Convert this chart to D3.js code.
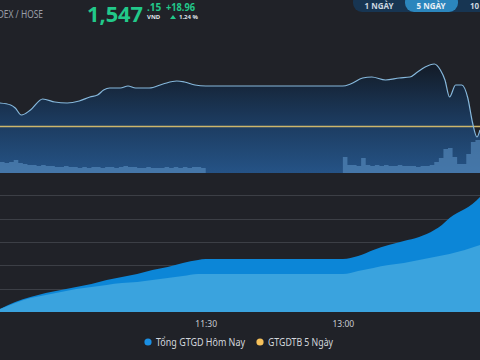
<!DOCTYPE html>
<html><head><meta charset="utf-8">
<script src="https://cdn.jsdelivr.net/npm/d3@7"></script>
<style>html,body{margin:0;padding:0;background:#202228;overflow:hidden}svg{display:block}</style>
</head><body>
<svg id="c" width="480" height="360"></svg>
<script>
// ---------- DATA ----------
const indexName = "VNINDEX / HOSE";
const lastPrice = "1,547";
const lastDecimals = ".15";
const change = "+18.96";
const changePct = "1.24 %";
const rangeButtons = ["1 NGÀY", "5 NGÀY", "10 NGÀY"];
const activeButton = "5 NGÀY";
const refPrice = 1528.19;

const priceTimes = ["09:15","09:22","09:25","09:29","09:35","09:43","09:51","09:59","10:07","10:14","10:19","10:23","10:27","10:34","10:39","10:44","10:53","11:02","11:11","11:16","11:23","11:30","13:00","13:05","13:13","13:19","13:28","13:37","13:44","13:49","13:54","14:00","14:04","14:07","14:10","14:14","14:18","14:22","14:25","14:28","14:30"];
const priceValues = [1540.0,1539.0,1537.5,1534.0,1536.5,1542.0,1540.5,1540.0,1541.0,1543.0,1544.0,1546.5,1547.5,1547.5,1548.5,1547.5,1547.5,1549.5,1551.0,1550.5,1549.0,1548.5,1548.5,1549.5,1552.5,1553.0,1551.5,1552.5,1553.0,1555.5,1558.0,1559.5,1556.5,1551.5,1543.0,1549.0,1549.0,1542.5,1530.5,1523.0,1526.5];

const volMorningTimes = ["09:15","09:18","09:21","09:24","09:27","09:30","09:33","09:36","09:39","09:42","09:45","09:48","09:51","09:54","09:57","10:00","10:03","10:06","10:09","10:12","10:15","10:18","10:21","10:24","10:27","10:30","10:33","10:36","10:39","10:42","10:45","10:48","10:51","10:54","10:57","11:00","11:03","11:06","11:09","11:12","11:15","11:18","11:21","11:24","11:27","11:30"];
const volMorning = [11,10,11,13,10,9,8,8,7,8,7,7,6,6,7,6,6,5,6,5,6,6,5,6,6,5,6,7,6,6,5,5,6,5,5,5,6,5,6,5,6,5,6,6,5,5];
const volAfternoonTimes = ["13:00","13:03","13:06","13:09","13:12","13:15","13:18","13:21","13:24","13:27","13:30","13:33","13:36","13:39","13:42","13:45","13:48","13:51","13:54","13:57","14:00","14:03","14:06","14:09","14:12","14:15","14:18","14:21","14:24","14:27","14:30"];
const volAfternoon = [16,8,8,7,15,8,7,8,7,8,7,7,8,7,7,7,6,7,7,8,11,15,24,25,16,9,9,19,31,33,25];

const valueTimes = ["09:15","09:25","09:35","09:45","09:55","10:05","10:15","10:25","10:35","10:45","10:55","11:05","11:15","11:25","11:30","13:00","13:10","13:20","13:30","13:40","13:50","14:00","14:05","14:10","14:15","14:20","14:25","14:30"];
const todayValue = [130,430,640,815,940,1070,1200,1370,1500,1630,1800,1930,2100,2230,2270,2270,2400,2660,2870,3040,3210,3510,3730,4030,4240,4410,4630,4930];
const avg5Value  = [130,390,600,730,860,990,1070,1160,1240,1290,1370,1460,1540,1630,1630,1630,1760,1890,2010,2100,2230,2360,2420,2490,2570,2660,2760,2870];

const axisTicks = ["11:30","13:00"];
const legendLabels = ["Tổng GTGD Hôm Nay","GTGDTB 5 Ngày"];

// ---------- CHART ----------
const parse = d3.timeParse("%H:%M");
const svg = d3.select("#c");
const W = 480;
const font = "'Noto Sans', 'Open Sans', sans-serif";
const green = "#22c98a";

const x = d3.scaleTime().domain([parse("09:15"), parse("14:30")]).range([0, W]);

// header
svg.append("text").attr("x", 43).attr("y", 18).attr("text-anchor", "end")
  .attr("font-family", font).attr("font-size", 11).attr("fill", "#9a9ea6")
  .attr("textLength", 66).attr("lengthAdjust", "spacingAndGlyphs").text(indexName);
svg.append("text").attr("x", 87).attr("y", 22).attr("font-family", font).attr("font-weight", 700)
  .attr("font-size", 22).attr("fill", green).attr("textLength", 56).attr("lengthAdjust","spacingAndGlyphs").text(lastPrice);
svg.append("text").attr("x", 147).attr("y", 10.5).attr("font-family", font).attr("font-weight", 700)
  .attr("font-size", 10).attr("fill", green).text(lastDecimals);
svg.append("text").attr("x", 147).attr("y", 19).attr("font-family", font).attr("font-weight", 700)
  .attr("font-size", 6).attr("fill", "#dfe3e8").text("VND");
svg.append("text").attr("x", 166).attr("y", 10.5).attr("font-family", font).attr("font-weight", 700)
  .attr("font-size", 10).attr("fill", green).attr("textLength", 29).attr("lengthAdjust","spacingAndGlyphs").text(change);
svg.append("path").attr("d", "M170,19L173,15L176,19Z").attr("fill", green);
svg.append("text").attr("x", 179).attr("y", 19).attr("font-family", font).attr("font-weight", 700)
  .attr("font-size", 6).attr("fill", "#dfe3e8").text(changePct);

// range buttons
svg.append("rect").attr("x", 353).attr("y", -7).attr("width", 150).attr("height", 19).attr("rx", 9).attr("fill", "#173552");
const btnX = [379, 431, 470];
svg.append("rect").attr("x", 405).attr("y", -7).attr("width", 53).attr("height", 19).attr("rx", 9).attr("fill", "#2b86bd");
rangeButtons.forEach((b, i) => {
  svg.append("text").attr("x", btnX[i]).attr("y", 8.5)
    .attr("text-anchor", i < 2 ? "middle" : "start")
    .attr("font-family", font).attr("font-weight", 700).attr("font-size", 8)
    .attr("fill", b === activeButton ? "#e8f0f6" : "#cdd7e0").text(b);
});

// top price panel
const topBottom = 173;
const yP = d3.scaleLinear().domain([1520, 1560]).range([143, 63]);
const defs = svg.append("defs");
const g = defs.append("linearGradient").attr("id", "pg").attr("gradientUnits", "userSpaceOnUse")
  .attr("x1", 0).attr("x2", 0).attr("y1", 60).attr("y2", topBottom);
g.append("stop").attr("offset", 0).attr("stop-color", "#121923");
g.append("stop").attr("offset", 0.5).attr("stop-color", "#1b385a");
g.append("stop").attr("offset", 1).attr("stop-color", "#255386");

const pData = priceTimes.map((t, i) => ({t: parse(t), v: priceValues[i]}));
svg.append("path").datum(pData)
  .attr("d", d3.area().x(d => x(d.t)).y0(topBottom).y1(d => yP(d.v)).curve(d3.curveMonotoneX))
  .attr("fill", "url(#pg)");

// volume
const yV = d3.scaleLinear().domain([0, 40]).range([topBottom, topBottom - 40]);
const volArea = d3.area().x(d => x(d.t)).y0(topBottom).y1(d => yV(d.v)).curve(d3.curveStepAfter);
[[volMorningTimes, volMorning], [volAfternoonTimes, volAfternoon]].forEach(([ts, vs]) => {
  svg.append("path").datum(ts.map((t, i) => ({t: parse(t), v: vs[i]})))
    .attr("d", volArea).attr("fill", "#5286b8").attr("opacity", 0.7);
});

// reference line
svg.append("line").attr("x1", 0).attr("x2", W).attr("y1", yP(refPrice)).attr("y2", yP(refPrice))
  .attr("stroke", "#cdb66c").attr("stroke-width", 1.5);

svg.append("path").datum(pData)
  .attr("d", d3.line().x(d => x(d.t)).y(d => yP(d.v)).curve(d3.curveMonotoneX))
  .attr("fill", "none").attr("stroke", "#86b8dc").attr("stroke-width", 1.2);

// bottom value panel
const yB = d3.scaleLinear().domain([0, 6000]).range([312, 172]);
svg.append("g").selectAll("line").data([1000, 2000, 3000, 4000, 5000]).join("line")
  .attr("x1", 0).attr("x2", W).attr("y1", d => Math.round(yB(d)) + 0.5).attr("y2", d => Math.round(yB(d)) + 0.5)
  .attr("stroke", "#3c3f46").attr("stroke-width", 1);

const vData = valueTimes.map((t, i) => ({t: parse(t), a: todayValue[i], b: avg5Value[i]}));
svg.append("path").datum(vData)
  .attr("d", d3.area().x(d => x(d.t)).y0(yB(0)).y1(d => yB(d.a)).curve(d3.curveMonotoneX))
  .attr("fill", "#0c86d7");
svg.append("path").datum(vData)
  .attr("d", d3.area().x(d => x(d.t)).y0(yB(0)).y1(d => yB(d.b)).curve(d3.curveMonotoneX))
  .attr("fill", "#3aa3de");

// x axis
const ax = svg.append("g").attr("transform", `translate(0,${yB(0)})`)
  .call(d3.axisBottom(x).tickValues(axisTicks.map(parse)).tickFormat(d3.timeFormat("%H:%M")).tickSize(0).tickPadding(9));
ax.select(".domain").remove();
ax.selectAll("text").attr("font-family", font).attr("font-size", 8.5).attr("fill", "#c9ccd2");

// legend
const legColors = ["#1a8fe3", "#f6c15b"];
const legX = [148, 260];
const legW = [89, 65];
legendLabels.forEach((l, i) => {
  svg.append("circle").attr("cx", legX[i]).attr("cy", 342).attr("r", 3.6).attr("fill", legColors[i]);
  svg.append("text").attr("x", legX[i] + 8).attr("y", 346).attr("font-family", font)
    .attr("font-size", 11).attr("fill", "#d3d7dd")
    .attr("textLength", legW[i]).attr("lengthAdjust", "spacingAndGlyphs").text(l);
});
</script>
</body></html>
